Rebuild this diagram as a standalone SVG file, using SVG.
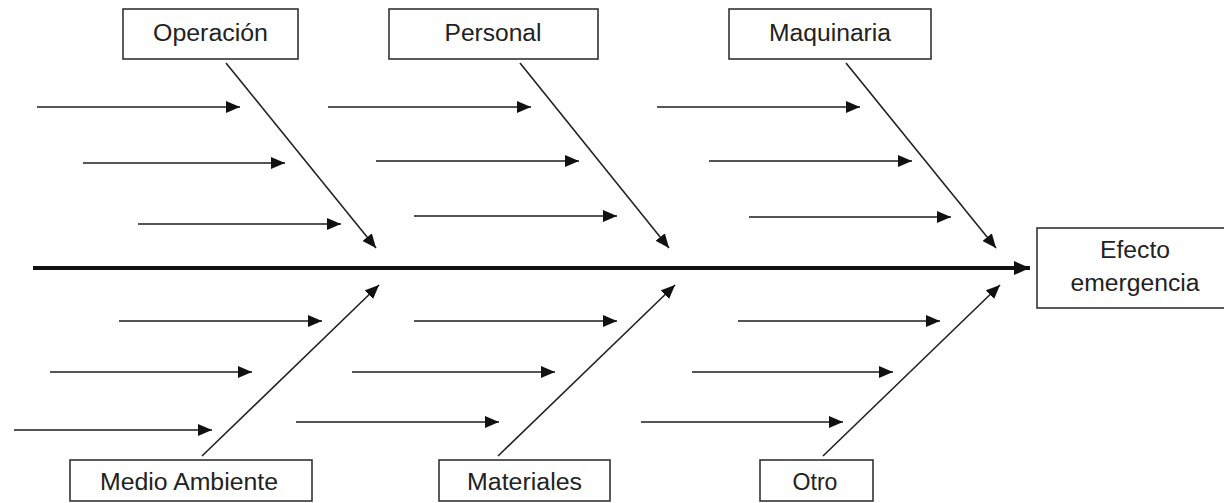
<svg xmlns="http://www.w3.org/2000/svg" width="1224" height="503" viewBox="0 0 1224 503">
  <style>
    .box { fill: #ffffff; stroke: #333333; stroke-width: 1.6; }
    .lbl { font-family: "Liberation Sans", Arial, sans-serif; font-size: 23.5px; fill: #222222; text-anchor: middle; }
    .cause { stroke: #555555; stroke-width: 2; fill: none; marker-end: url(#tip); }
    .bone { stroke: #222222; stroke-width: 1.6; fill: none; marker-end: url(#tip); }
    .spine { stroke: #111111; stroke-width: 4; fill: none; marker-end: url(#bigtip); }
  </style>
  <defs>
    <marker id="tip" markerUnits="userSpaceOnUse" markerWidth="16" markerHeight="14" refX="14" refY="6" orient="auto">
      <path d="M0,0 L14,6 L0,12 Z" fill="#111111"/>
    </marker>
    <marker id="bigtip" markerUnits="userSpaceOnUse" markerWidth="18" markerHeight="16" refX="16" refY="7" orient="auto">
      <path d="M0,0 L16,7 L0,14 Z" fill="#111111"/>
    </marker>
  </defs>

  <rect width="1224" height="503" fill="#ffffff"/>

  <g id="connectors">
    <!-- main spine -->
    <line class="spine" x1="33" y1="268" x2="1030" y2="268"/>

    <!-- upper bones -->
    <line class="bone" x1="226" y1="63" x2="376" y2="248"/>
    <line class="bone" x1="520" y1="63" x2="669" y2="248"/>
    <line class="bone" x1="846" y1="63" x2="996" y2="248"/>

    <!-- lower bones -->
    <line class="bone" x1="202" y1="456" x2="379" y2="285"/>
    <line class="bone" x1="498" y1="456" x2="675" y2="285"/>
    <line class="bone" x1="823" y1="456" x2="1000" y2="285"/>

    <!-- upper causes -->
    <line class="cause" x1="37" y1="107" x2="240" y2="107"/>
    <line class="cause" x1="83" y1="163" x2="285" y2="163"/>
    <line class="cause" x1="138" y1="224" x2="341" y2="224"/>
    <line class="cause" x1="328" y1="107" x2="531" y2="107"/>
    <line class="cause" x1="376" y1="161" x2="579" y2="161"/>
    <line class="cause" x1="414" y1="216" x2="617" y2="216"/>
    <line class="cause" x1="657" y1="107" x2="860" y2="107"/>
    <line class="cause" x1="709" y1="161" x2="912" y2="161"/>
    <line class="cause" x1="749" y1="217" x2="951" y2="217"/>

    <!-- lower causes -->
    <line class="cause" x1="119" y1="321" x2="322" y2="321"/>
    <line class="cause" x1="50" y1="372" x2="252" y2="372"/>
    <line class="cause" x1="14" y1="430" x2="212" y2="430"/>
    <line class="cause" x1="414" y1="321" x2="617" y2="321"/>
    <line class="cause" x1="352" y1="372" x2="555" y2="372"/>
    <line class="cause" x1="296" y1="422" x2="499" y2="422"/>
    <line class="cause" x1="738" y1="321" x2="940" y2="321"/>
    <line class="cause" x1="692" y1="372" x2="893" y2="372"/>
    <line class="cause" x1="641" y1="422" x2="843" y2="422"/>
  </g>

  <g id="operacion">
    <rect class="box" x="123" y="9" width="175" height="50"/>
    <text class="lbl" x="210.5" y="41" textLength="115" lengthAdjust="spacingAndGlyphs">Operación</text>
  </g>
  <g id="personal">
    <rect class="box" x="389" y="9" width="209" height="50"/>
    <text class="lbl" x="493" y="41" textLength="97" lengthAdjust="spacingAndGlyphs">Personal</text>
  </g>
  <g id="maquinaria">
    <rect class="box" x="729" y="9" width="202" height="50"/>
    <text class="lbl" x="830" y="41" textLength="122" lengthAdjust="spacingAndGlyphs">Maquinaria</text>
  </g>
  <g id="efecto">
    <rect class="box" x="1037" y="228" width="196" height="80"/>
    <text class="lbl" x="1135" y="258" textLength="70" lengthAdjust="spacingAndGlyphs">Efecto</text>
    <text class="lbl" x="1135" y="291" textLength="129" lengthAdjust="spacingAndGlyphs">emergencia</text>
  </g>
  <g id="medio-ambiente">
    <rect class="box" x="70" y="460" width="242" height="41"/>
    <text class="lbl" x="189" y="490" textLength="178" lengthAdjust="spacingAndGlyphs">Medio Ambiente</text>
  </g>
  <g id="materiales">
    <rect class="box" x="439" y="460" width="171" height="41"/>
    <text class="lbl" x="524.5" y="490" textLength="115" lengthAdjust="spacingAndGlyphs">Materiales</text>
  </g>
  <g id="otro">
    <rect class="box" x="760" y="460" width="113" height="41"/>
    <text class="lbl" x="815" y="490" textLength="45" lengthAdjust="spacingAndGlyphs">Otro</text>
  </g>
</svg>
